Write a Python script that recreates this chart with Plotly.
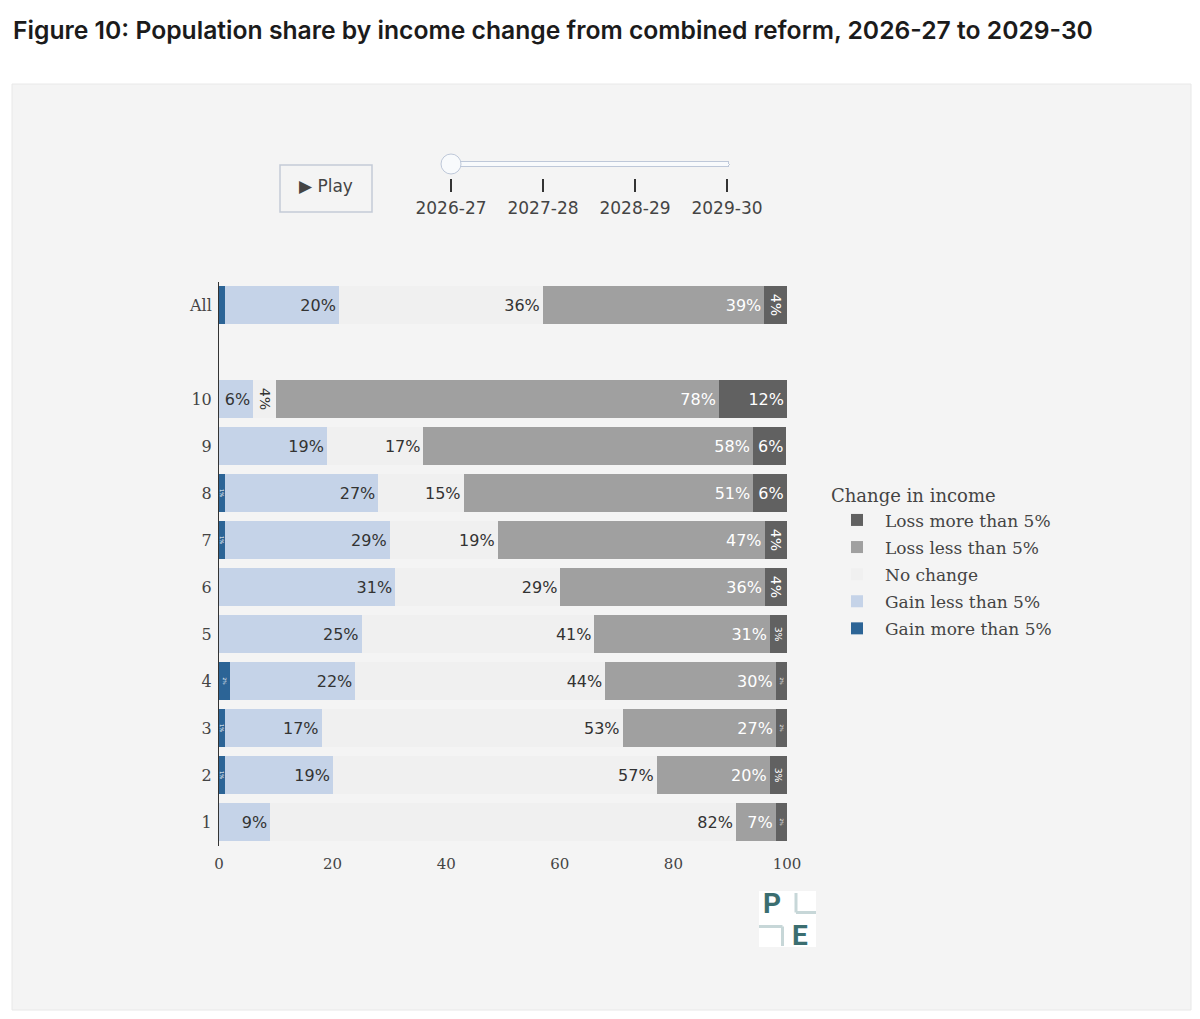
import plotly.graph_objects as go

# the page body keeps its 8px margin, so the figure is 16px smaller than the window
# and all positions below are given in window pixels, then moved by that margin
PAGE_MARGIN = 8
W, H = 1200 - 2 * PAGE_MARGIN, 1019 - 2 * PAGE_MARGIN


def px(x):
    return (x - PAGE_MARGIN) / W


def py(y):
    return 1 - (y - PAGE_MARGIN) / H


# ---- data (2026-27), share of people in each income decile, %
groups = ["1", "2", "3", "4", "5", "6", "7", "8", "9", "10", "All"]
group_pos = [1, 2, 3, 4, 5, 6, 7, 8, 9, 10, 12]  # blank slot between 10 and All

gain_more = [0, 1.05, 1.05, 2.0, 0, 0, 1.05, 1.05, 0, 0, 1.1]
gain_less = [9.0, 19.0, 17.0, 22.0, 25.1, 31.0, 29.0, 27.0, 19.0, 6.0, 20.0]
no_change = [82.0, 57.0, 53.0, 44.0, 41.0, 29.1, 19.0, 15.0, 17.0, 4.0, 35.9]
loss_less = [7.0, 19.9, 27.0, 30.0, 30.9, 36.0, 47.0, 51.0, 58.0, 78.0, 39.0]
loss_more = [2.0, 3.0, 2.0, 2.0, 3.0, 4.0, 4.0, 5.9, 5.9, 12.0, 4.0]

years = ["2026-27", "2027-28", "2028-29", "2029-30"]
x_ticks = [0, 20, 40, 60, 80, 100]

series = [
    ("Gain more than 5%", gain_more, "#2C6496", "white"),
    ("Gain less than 5%", gain_less, "#C5D3E8", "#333333"),
    ("No change", no_change, "#F0F0F0", "#333333"),
    ("Loss less than 5%", loss_less, "#A0A0A0", "white"),
    ("Loss more than 5%", loss_more, "#616161", "white"),
]

SANS = "DejaVu Sans"
SERIF = "DejaVu Serif"

fig = go.Figure()

for i, (name, vals, colour, txt_colour) in enumerate(series):
    labels = [f"{round(v)}%" if v > 0 else "" for v in vals]
    fig.add_trace(go.Bar(
        orientation="h", name=name, legendgroup=name, legendrank=len(series) - i,
        x=vals, y=group_pos,
        marker=dict(color=colour, line=dict(width=0)),
        text=labels, textposition="inside",
        insidetextfont=dict(family=SANS, size=16, color=txt_colour),
        hovertemplate="%{x:.1f}%<extra>" + name + "</extra>",
    ))

# grey card behind the chart
shapes = [dict(type="rect", xref="paper", yref="paper", layer="below",
               x0=px(12), x1=px(1191), y0=py(84), y1=py(1010),
               fillcolor="#f4f4f4", line=dict(color="#e8e8e8", width=1))]

# play button outline
bx0, bx1, by0, by1 = px(280), px(372), py(165), py(212)
shapes.append(dict(type="rect", xref="paper", yref="paper", layer="below",
                   x0=bx0, x1=bx1, y0=by1, y1=by0,
                   fillcolor="#f4f4f4", line=dict(color="#c3cad6", width=1.5)))

# logo
logo_teal = "#3b6e70"
logo_light = "#c7d7d8"
shapes.append(dict(type="rect", xref="paper", yref="paper", layer="above",
                   x0=px(759), x1=px(816), y0=py(947), y1=py(891),
                   fillcolor="white", line=dict(width=0)))
for (xa, ya, xb, yb) in [(796, 893, 796, 912.5), (796, 912.5, 816, 912.5),
                         (759, 926.5, 782.5, 926.5), (782.5, 926.5, 782.5, 946)]:
    shapes.append(dict(type="line", xref="paper", yref="paper", layer="above",
                       x0=px(xa), y0=py(ya), x1=px(xb), y1=py(yb),
                       line=dict(color=logo_light, width=3)))

annotations = [
    dict(text="<b>P</b>", x=px(772), y=py(903.5), xref="paper", yref="paper",
         xanchor="center", yanchor="middle", showarrow=False,
         font=dict(family="Roboto", size=28, color=logo_teal)),
    dict(text="<b>E</b>", x=px(800), y=py(935), xref="paper", yref="paper",
         xanchor="center", yanchor="middle", showarrow=False,
         font=dict(family="Roboto", size=28, color=logo_teal)),
]

fig.update_layout(
    width=W, height=H,
    margin=dict(l=0, r=0, t=0, b=0, autoexpand=False),
    paper_bgcolor="white",
    plot_bgcolor="rgba(0,0,0,0)",
    barmode="stack",
    bargap=0.2,
    title=dict(text="Figure 10: Population share by income change from combined reform, 2026-27 to 2029-30",
               x=px(13), xref="container", xanchor="left",
               y=py(30), yref="container", yanchor="middle",
               font=dict(family="Inter", size=24.7, weight=600, color="#1b1b1b")),
    xaxis=dict(domain=[px(219), px(787)], range=[0, 100], tickvals=x_ticks,
               showgrid=False, zeroline=False, showline=False,
               ticks="outside", ticklen=4, tickcolor="rgba(0,0,0,0)",
               tickfont=dict(family=SERIF, size=15, color="#444")),
    yaxis=dict(domain=[py(845.5), py(281.5)], range=[0.5, 12.5],
               tickvals=group_pos, ticktext=groups,
               showgrid=False, zeroline=False, showline=True,
               linecolor="#333", linewidth=1,
               ticks="outside", ticklen=3, tickcolor="rgba(0,0,0,0)",
               tickfont=dict(family=SERIF, size=16, color="#444")),
    legend=dict(title=dict(text="Change in income",
                           font=dict(family=SERIF, size=18, color="#444")),
                font=dict(family=SERIF, size=17, color="#444"),
                traceorder="grouped", tracegroupgap=2, itemwidth=46,
                bgcolor="rgba(0,0,0,0)",
                x=px(829), xanchor="left", y=py(479), yanchor="top"),
    shapes=shapes,
    annotations=annotations,
    updatemenus=[dict(
        type="buttons", showactive=False,
        x=(bx0 + bx1) / 2, xanchor="center", y=(by0 + by1) / 2, yanchor="middle",
        pad=dict(t=0, r=0, b=0, l=0),
        bgcolor="rgba(0,0,0,0)", bordercolor="rgba(0,0,0,0)", borderwidth=0,
        font=dict(family=SANS, size=17, color="#444"),
        buttons=[dict(label="▶ Play", method="animate",
                      args=[None, dict(frame=dict(duration=1000, redraw=True),
                                       fromcurrent=True)])],
    )],
    sliders=[dict(
        active=0,
        x=px(441), len=296 / W, xanchor="left",
        y=py(154), yanchor="top",
        pad=dict(t=0, r=0, b=0, l=0),
        currentvalue=dict(visible=False),
        font=dict(family=SANS, size=17, color="#444"),
        tickcolor="#333", ticklen=13, tickwidth=2.5,
        steps=[dict(label=yr, method="skip", args=[[yr]]) for yr in years],
    )],
)

fig.write_html("out.html")
